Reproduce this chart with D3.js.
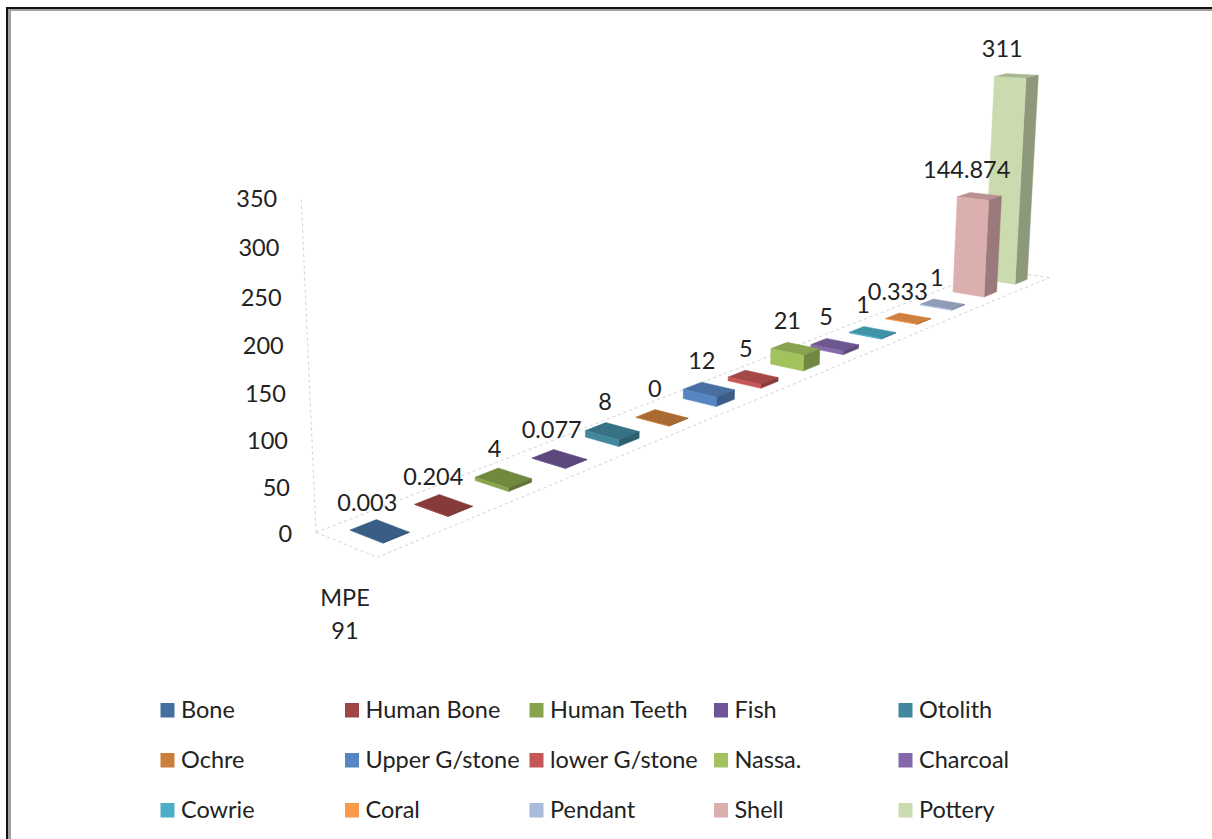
<!DOCTYPE html>
<html>
<head>
<meta charset="utf-8">
<script src="https://cdnjs.cloudflare.com/ajax/libs/d3/7.8.5/d3.min.js"></script>
<style>
  html, body { margin: 0; padding: 0; background: #fff; }
  svg { display: block; }
  text { font-family: Lato, "Open Sans", sans-serif; fill: #222; }
</style>
</head>
<body>
<svg id="chart" width="1212" height="839"></svg>
<script>
// Finds recovered per material for context MPE 91
const materials = ["Bone", "Human Bone", "Human Teeth", "Fish", "Otolith",
  "Ochre", "Upper G/stone", "lower G/stone", "Nassa.", "Charcoal",
  "Cowrie", "Coral", "Pendant", "Shell", "Pottery"];
const amounts = [0.003, 0.204, 4, 0.077, 8, 0, 12, 5, 21, 5, 1, 0.333, 1, 144.874, 311];
const amountLabels = ["0.003", "0.204", "4", "0.077", "8", "0", "12", "5", "21", "5", "1", "0.333", "1", "144.874", "311"];
const swatches = ["#44709f", "#a04545", "#86a44b", "#6f5596", "#41879e",
  "#cc7f3a", "#5585c2", "#c45656", "#a2c25e", "#8468ab",
  "#4cafc8", "#f9994a", "#aabada", "#dcafaf", "#cbdbb0"];
const valueTicks = [0, 50, 100, 150, 200, 250, 300, 350];
const categoryLines = ["MPE", "91"];

const svg = d3.select("#chart");

// Window frame: black outer rule with a grey inner rule, top and left only
svg.append("path").attr("d", "M9.5 839V9.5H1212").attr("fill", "none").attr("stroke", "#a0a0a0").attr("stroke-width", 3);
svg.append("path").attr("d", "M7 839V8H1212").attr("fill", "none").attr("stroke", "#111").attr("stroke-width", 2);

// Perspective camera: floor homography plus a vertical vanishing point
const uScale = d3.scaleLinear().domain([0.3, 13.3]).range([0, 1]);
const vScale = d3.scaleLinear().domain([0, 1]).range([0, 1]);
const heightScale = d3.scaleLinear().domain([0, 350]).range([0, 1]);
const quad = [[350, 530], [953, 292], [984, 297], [383, 543]];
const vanish = [628, 7556];
const depthBend = 0.04;   // extra foreshortening along the row of bars
const depthGain = 0.03;   // slight height gain towards the far end

const [[x0, y0], [x1, y1], [x2, y2], [x3, y3]] = quad;
const dx1 = x1 - x2, dx2 = x3 - x2, sx = x0 - x1 + x2 - x3;
const dy1 = y1 - y2, dy2 = y3 - y2, sy = y0 - y1 + y2 - y3;
const det = dx1 * dy2 - dx2 * dy1;
const g = (sx * dy2 - dx2 * sy) / det, h = (dx1 * sy - sx * dy1) / det;
const a = x1 - x0 + g * x1, b = x3 - x0 + h * x3, c = x0;
const d = y1 - y0 + g * y1, e = y3 - y0 + h * y3, f = y0;

const floorU = [0, 15], floorV = [-0.43, 1.43];
const bent = (u, bend) => { const U = uScale(u); return U / (1 + bend * (1 - U)); };
const wAxis = g * bent(floorU[0], depthBend) + h * vScale(floorV[0]) + 1;
const yAxisBase = (d * bent(floorU[0], depthBend) + e * vScale(floorV[0]) + f) / wAxis;
const lift = wAxis * (197 - yAxisBase) / (vanish[1] - 197);

function project(u, v, value, bend = depthBend) {
  const U = bent(u, bend), V = vScale(v), T = heightScale(value) * lift * (1 + depthGain * Math.max(U, 0));
  const w = g * U + h * V + 1 + T;
  return [(a * U + b * V + c + T * vanish[0]) / w, (d * U + e * V + f + T * vanish[1]) / w];
}
const polygon = pts => d3.line()(pts) + "Z";

// Floor outline and value axis
const chartLayer = svg.append("g");
const guide = chartLayer.append("g").attr("fill", "none").attr("stroke", "#d2d2d2").attr("stroke-width", 1).attr("stroke-dasharray", "3 3");
guide.append("path").attr("d", d3.line()([project(floorU[0], floorV[0], 0), project(floorU[1], floorV[0], 0)]));
guide.append("path").attr("d", d3.line()([project(floorU[0], floorV[1], 0), project(floorU[1], floorV[1], 0)]));
guide.append("path").attr("d", d3.line()([project(floorU[0], floorV[0], 0), project(floorU[0], floorV[1], 0)]));
guide.append("path").attr("d", d3.line()([project(floorU[1], floorV[0], 0), project(floorU[1], floorV[1], 0)]));
guide.append("path").attr("d", d3.line()([project(floorU[0], floorV[0], 0), project(floorU[0], floorV[0], 350)]));

chartLayer.append("g").selectAll("text").data(valueTicks).join("text")
  .attr("x", t => project(floorU[0], floorV[0], t)[0] - 24)
  .attr("y", t => project(floorU[0], floorV[0], t)[1] + 9.5)
  .attr("text-anchor", "end").attr("font-size", 23.5).text(t => t);

// Bars, painted far to near so the nearer ones overlap
const barDepth = 0.4;
const shade = (col, k) => d3.rgb(col).darker(k).formatHex();
const bars = d3.range(materials.length).reverse();
const barLayer = chartLayer.append("g");
const face = (group, col, pts) => group.append("path")
  .attr("fill", col).attr("stroke", col).attr("stroke-width", 0.5)
  .attr("d", polygon(pts));
bars.forEach(i => {
  const u0 = i + 0.3, u1 = u0 + barDepth, val = amounts[i], col = swatches[i];
  const g0 = barLayer.append("g");
  face(g0, shade(col, 0.5), [project(u0, 0, val), project(u1, 0, val), project(u1, 1, val), project(u0, 1, val)]);
  face(g0, shade(col, 1.0), [project(u0, 1, 0), project(u1, 1, 0), project(u1, 1, val), project(u0, 1, val)]);
  face(g0, col, [project(u0, 0, 0), project(u0, 1, 0), project(u0, 1, val), project(u0, 0, val)]);
});

// Value labels above each bar, spaced evenly without the extra bend;
// the Pendant label sits clear of the Coral one, tall bars lift theirs a little
const pendantIndex = materials.indexOf("Pendant");
chartLayer.append("g").selectAll("text").data(amountLabels).join("text")
  .attr("x", (t, i) => project(i + 0.5, 0.2, amounts[i], 0)[0] - 3 + (i === pendantIndex ? 6 : 0))
  .attr("y", (t, i) => project(i + 0.5, 0.2, amounts[i], 0)[1] - 16 - amounts[i] * 0.01)
  .attr("text-anchor", "middle").attr("font-size", 23.5).text(t => t);

// Category label
chartLayer.append("g").selectAll("text").data(categoryLines).join("text")
  .attr("x", 345).attr("y", (t, i) => 606 + i * 33)
  .attr("text-anchor", "middle").attr("font-size", 23.5).text(t => t);

// Legend, five columns by three rows
const legendX = d3.scalePoint().domain(d3.range(5)).range([160, 898]);
const legendY = d3.scalePoint().domain(d3.range(3)).range([710, 810]);
const legend = svg.append("g").selectAll("g").data(materials).join("g")
  .attr("transform", (t, i) => `translate(${legendX(i % 5)},${legendY(Math.floor(i / 5))})`);
legend.append("rect").attr("x", 0.5).attr("y", -7).attr("width", 14).attr("height", 14.5).attr("fill", (t, i) => swatches[i]);
legend.append("text").attr("x", 21).attr("y", 8).attr("font-size", 23.5).text(t => t);
</script>
</body>
</html>
